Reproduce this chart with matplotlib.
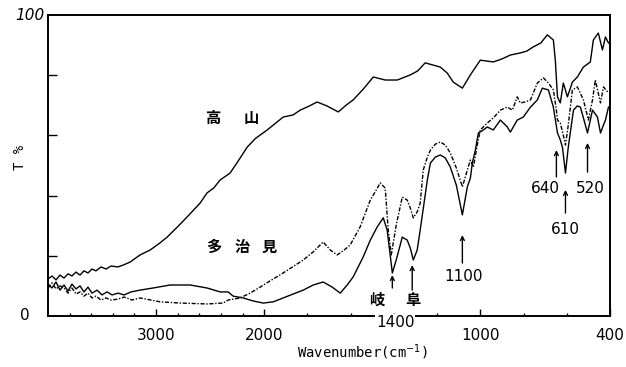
import numpy as np
import matplotlib
matplotlib.use("Agg")
import matplotlib.pyplot as plt

plt.rcParams['font.family'] = ['DejaVu Sans', 'Noto Sans CJK JP']

# IR transmittance spectra: (wavenumber cm-1, T %)
takayama = [
    (4000, 12.3), (3963, 13.3), (3926, 12.0), (3889, 13.6), (3852, 12.6), (3815, 14.0),
    (3778, 13.3), (3741, 14.6), (3704, 13.6), (3667, 15.0), (3630, 14.3), (3593, 15.6),
    (3556, 15.0), (3509, 16.3), (3463, 15.6), (3417, 16.6), (3352, 16.3), (3306, 16.9),
    (3241, 17.9), (3148, 20.3), (3056, 21.9), (2963, 24.3), (2898, 26.2), (2805, 29.5),
    (2713, 32.9), (2593, 37.5), (2528, 40.9), (2467, 42.5), (2407, 45.2), (2315, 47.5),
    (2240, 51.5), (2157, 56.1), (2080, 59.0), (1986, 61.8), (1912, 66.1), (1866, 66.8),
    (1833, 68.4), (1790, 69.8), (1755, 71.1), (1710, 69.8), (1657, 67.8), (1620, 70.1),
    (1588, 71.8), (1540, 75.5), (1495, 79.4), (1440, 78.4), (1384, 78.4), (1324, 80.1),
    (1290, 81.4), (1255, 84.1), (1220, 83.4), (1185, 82.7), (1153, 80.7), (1125, 77.7),
    (1083, 75.7), (1046, 80.1), (1000, 85.0), (940, 84.4), (900, 85.4), (861, 86.7),
    (815, 87.4), (785, 88.0), (755, 89.4), (720, 90.7), (690, 93.4), (662, 91.7),
    (653, 85.0), (643, 72.8), (630, 70.8), (616, 77.4), (597, 72.8), (574, 77.7),
    (551, 79.4), (523, 82.7), (491, 84.4), (477, 91.7), (454, 94.0), (435, 88.4),
    (421, 92.7), (407, 90.7),
]

tajimi = [
    (4000, 9.3), (3963, 11.0), (3926, 9.0), (3889, 10.0), (3852, 9.3), (3815, 7.6),
    (3778, 9.3), (3741, 7.3), (3704, 8.0), (3667, 6.6), (3630, 7.6), (3593, 6.0),
    (3556, 6.6), (3509, 5.3), (3463, 6.0), (3417, 5.3), (3352, 5.6), (3296, 6.3),
    (3222, 5.3), (3148, 6.0), (2963, 4.7), (2778, 4.3), (2528, 4.0), (2380, 4.3),
    (2333, 5.3), (2222, 6.0), (2130, 7.6), (2037, 9.6), (1981, 11.3), (1912, 14.3),
    (1819, 18.6), (1773, 21.3), (1727, 24.6), (1694, 21.9), (1662, 20.3), (1630, 21.9),
    (1602, 23.6), (1556, 29.6), (1509, 38.5), (1481, 41.9), (1463, 44.2), (1440, 42.5),
    (1426, 28.6), (1412, 20.3), (1389, 30.2), (1361, 39.5), (1338, 38.5), (1324, 35.9),
    (1310, 32.6), (1292, 34.6), (1278, 37.5), (1264, 48.5), (1245, 52.8), (1231, 55.1),
    (1208, 57.1), (1185, 57.8), (1162, 56.8), (1139, 54.2), (1111, 49.2), (1083, 42.9),
    (1060, 48.5), (1046, 51.8), (1032, 49.5), (1014, 56.8), (1000, 61.8), (968, 64.1),
    (940, 65.8), (907, 68.4), (875, 69.4), (852, 68.4), (829, 72.8), (815, 70.8),
    (792, 71.1), (768, 71.8), (736, 77.4), (708, 79.1), (685, 77.4), (662, 75.1),
    (648, 68.4), (643, 65.1), (630, 64.1), (616, 60.1), (606, 56.8), (593, 63.5),
    (574, 75.1), (551, 76.1), (523, 71.8), (500, 65.1), (481, 71.8), (468, 78.4),
    (444, 70.8), (430, 76.1), (407, 74.1),
]

gifu = [
    (4000, 10.6), (3963, 9.3), (3926, 11.3), (3889, 8.6), (3852, 10.3), (3815, 8.3),
    (3778, 10.6), (3741, 9.0), (3704, 10.0), (3667, 8.0), (3630, 9.6), (3593, 7.6),
    (3546, 8.6), (3500, 7.0), (3454, 8.0), (3407, 7.0), (3352, 7.6), (3296, 7.0),
    (3231, 8.0), (3148, 8.6), (3028, 9.3), (2870, 10.3), (2685, 10.3), (2528, 9.3),
    (2407, 8.0), (2333, 8.0), (2287, 6.6), (2194, 6.0), (2102, 5.0), (2009, 4.3),
    (1958, 4.7), (1912, 6.0), (1866, 7.3), (1819, 8.6), (1773, 10.3), (1727, 11.3),
    (1685, 9.6), (1648, 7.6), (1616, 10.3), (1588, 13.0), (1542, 19.6), (1509, 25.2),
    (1477, 29.6), (1449, 32.6), (1431, 28.6), (1417, 20.3), (1407, 14.3), (1389, 18.6),
    (1361, 26.2), (1338, 25.2), (1324, 22.6), (1310, 18.6), (1292, 21.9), (1278, 28.6),
    (1245, 45.2), (1231, 50.8), (1208, 52.8), (1185, 53.5), (1162, 52.5), (1139, 49.5),
    (1111, 43.5), (1083, 33.6), (1060, 42.9), (1046, 45.8), (1037, 50.8), (1023, 55.1),
    (1009, 60.8), (986, 61.8), (968, 62.8), (940, 61.8), (907, 65.1), (875, 62.8),
    (861, 61.1), (829, 65.1), (801, 66.1), (768, 69.4), (736, 71.8), (713, 75.7),
    (685, 75.1), (662, 69.4), (643, 60.8), (630, 58.5), (620, 56.1), (606, 47.5),
    (593, 56.1), (569, 68.4), (551, 69.8), (537, 69.4), (518, 64.5), (504, 60.8),
    (481, 68.4), (458, 66.1), (444, 60.8), (430, 63.5), (421, 65.1), (407, 69.4),
]

x_major = [3000, 2000, 1000, 400]
x_major_labels = ['3000', '2000', '1000', '400']
x_minor = list(range(3800, 400, -200))

# peak markers: (wavenumber, label, arrow tail T, arrow head T, label x, label T)
peaks = [
    (1083, '1100', 17.6, 26.9, 1079, 13.0),
    (648, '640', 46.2, 55.1, 699, 42.5),
    (504, '520', 47.8, 57.5, 491, 42.5),
    (606, '610', 34.2, 41.9, 606, 28.6),
]
band_1400 = [(1407, 9.3, 13.6), (1315, 8.6, 16.9)]


def fwd(w):
    w = np.asarray(w, dtype=float)
    return np.where(w >= 2000, 2000 + (w - 2000) * 0.5, w)


def inv(p):
    p = np.asarray(p, dtype=float)
    return np.where(p >= 2000, 2000 + (p - 2000) * 2.0, p)


fig = plt.figure(figsize=(6.26, 3.67), dpi=100)
ax = fig.add_axes([48 / 626, 51 / 367, 562 / 626, 301 / 367])
ax.set_xscale('function', functions=(fwd, inv))
ax.set_xlim(4000, 400)
ax.set_ylim(0, 100)

for data, ls in ((takayama, '-'), (gifu, '-'), (tajimi, (0, (3, 1.2, 1, 1.2)))):
    arr = np.array(data)
    ax.plot(arr[:, 0], arr[:, 1], color='black', lw=1.0, ls=ls)

for s in ax.spines.values():
    s.set_linewidth(1.4)

ax.set_xticks(x_major)
ax.set_xticklabels(x_major_labels)
ax.set_xticks(x_minor, minor=True)
ax.tick_params(axis='x', which='major', direction='in', length=5, width=1.0,
               labelsize=11, pad=9, top=False)
ax.tick_params(axis='x', which='minor', direction='in', length=2.5, width=1.0, top=False)
ax.set_yticks([20, 40, 60, 80])
ax.set_yticklabels([])
ax.tick_params(axis='y', direction='in', length=6.5, width=1.0, right=False)

ax.text(-0.006, 1.0, '100', transform=ax.transAxes, ha='right', va='center',
        fontsize=11, style='italic')
ax.text(-0.032, 0.0, '0', transform=ax.transAxes, ha='right', va='center', fontsize=11)
fig.text(20 / 626, 1 - 157 / 367, 'T %', rotation=90, ha='center', va='center',
         fontsize=10, family='DejaVu Sans Mono')
fig.text(362 / 626, 1 - 352 / 367, 'Wavenumber(cm$^{-1}$)', ha='center', va='center',
         fontsize=10, family='DejaVu Sans Mono')

cjk = dict(fontsize=11, family=['Noto Sans CJK JP', 'DejaVu Sans'], ha='center',
           va='center', fontweight='bold')
for ch, w in (('高', 2472), ('山', 2120)):
    ax.text(w, 65.8, ch, **cjk)
for ch, w in (('多', 2463), ('治', 2204), ('見', 1977)):
    ax.text(w, 22.9, ch, **cjk)
for ch, w in (('岐', 1481), ('阜', 1310)):
    ax.text(w, 5.3, ch, **cjk)

arrow = dict(arrowstyle='->', lw=1.0, color='black', shrinkA=0, shrinkB=0,
             mutation_scale=7)
for w, lab, t0, t1, lx, lt in peaks:
    ax.annotate('', xy=(w, t1), xytext=(w, t0), arrowprops=arrow)
    ax.text(lx, lt, lab, ha='center', va='center', fontsize=11)
for w, t0, t1 in band_1400:
    ax.annotate('', xy=(w, t1), xytext=(w, t0), arrowprops=arrow)
ax.text(1393, -2.0, '1400', ha='center', va='center', fontsize=11, clip_on=False,
        zorder=10, bbox=dict(facecolor='white', edgecolor='none', pad=0.5))

fig.savefig('out.png', dpi=100)
